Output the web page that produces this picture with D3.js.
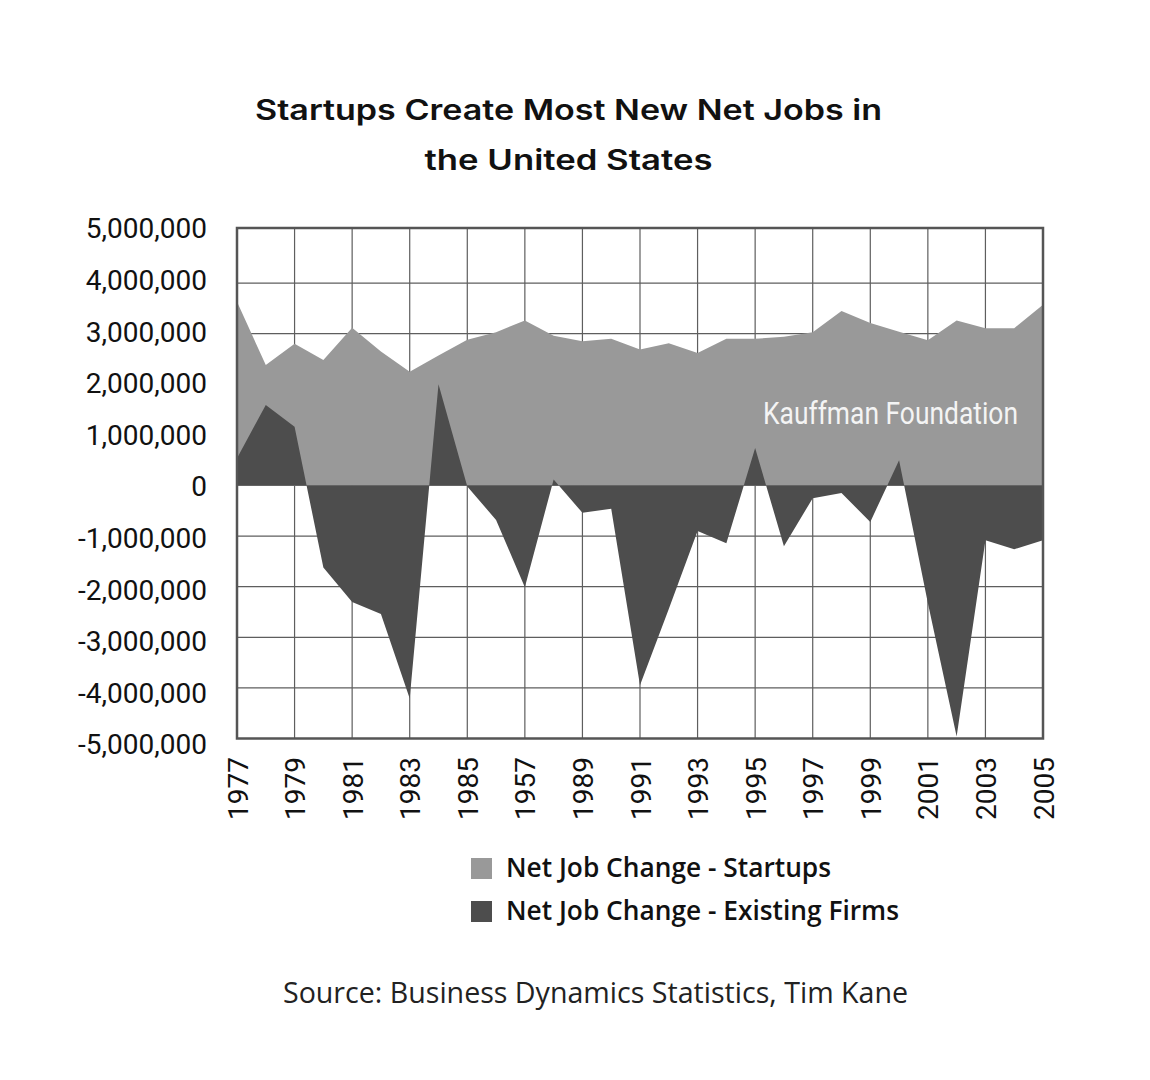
<!DOCTYPE html>
<html><head><meta charset="utf-8">
<script src="https://cdn.jsdelivr.net/npm/d3@7"></script>
<style>body{margin:0;background:#fff}</style>
</head><body>
<svg id="c" width="1150" height="1080"></svg>
<script>
const years = [1977,1978,1979,1980,1981,1982,1983,1984,1985,1986,1987,1988,1989,1990,1991,1992,1993,1994,1995,1996,1997,1998,1999,2000,2001,2002,2003,2004,2005];
const startups = [3630000,2380000,2800000,2480000,3120000,2650000,2250000,2570000,2880000,3030000,3260000,2960000,2850000,2900000,2690000,2810000,2620000,2900000,2900000,2940000,3030000,3450000,3210000,3040000,2870000,3260000,3110000,3110000,3570000];
const existing = [540000,1590000,1160000,-1620000,-2300000,-2540000,-4210000,2000000,-20000,-680000,-2010000,120000,-540000,-460000,-3950000,-2440000,-900000,-1140000,740000,-1200000,-250000,-150000,-720000,500000,-2320000,-4960000,-1080000,-1260000,-1080000];
const xTickYears = [1977,1979,1981,1983,1985,1987,1989,1991,1993,1995,1997,1999,2001,2003,2005];
const xTickLabels = ["1977","1979","1981","1983","1985","1957","1989","1991","1993","1995","1997","1999","2001","2003","2005"];
const yTicks = [5000000,4000000,3000000,2000000,1000000,0,-1000000,-2000000,-3000000,-4000000,-5000000];
const seriesNames = ["Net Job Change - Startups","Net Job Change - Existing Firms"];
const seriesColors = ["#999999","#4d4d4d"];
const titleLines = ["Startups Create Most New Net Jobs in","the United States"];
const watermark = "Kauffman Foundation";
const source = "Source: Business Dynamics Statistics, Tim Kane";

const svg = d3.select("#c");
const L = 237, R = 1043, T = 228, B = 738.5;
const x = d3.scaleLinear().domain([1977,2005]).range([L,R]);
const y = d3.scaleLinear().domain([-5000000,5000000]).range([B,232.5]);
const yLab = d3.scaleLinear().domain([-5000000,5000000]).range([745,229]);
const fmt = d3.formatLocale({decimal:".",thousands:",",grouping:[3],currency:["$",""],minus:"-"}).format(",");

// title
svg.append("g").selectAll("text").data(titleLines).join("text")
  .attr("x",568.5).attr("y",(d,i)=>120+i*50)
  .attr("text-anchor","middle")
  .attr("font-family","Inter, 'Open Sans', sans-serif").attr("font-weight",600)
  .attr("font-size",28).attr("fill","#111")
  .attr("textLength",(d,i)=>i===0?627:288).attr("lengthAdjust","spacingAndGlyphs")
  .text(d=>d);

// grid
const grid = svg.append("g");
grid.selectAll("line.h").data(yTicks.filter(v=>v<5000000)).join("line")
  .attr("x1",L).attr("x2",R).attr("y1",d=>y(d)).attr("y2",d=>y(d))
  .attr("stroke","#5e5e5e").attr("stroke-width",1.2);
grid.selectAll("line.v").data(xTickYears).join("line")
  .attr("x1",d=>x(d)).attr("x2",d=>x(d)).attr("y1",T).attr("y2",B)
  .attr("stroke","#5e5e5e").attr("stroke-width",1.2);

// areas
const area = d3.area().x(d=>x(d.year)).y0(y(0)).y1(d=>y(d.v));
[startups, existing].forEach((s,k)=>{
  svg.append("path").datum(years.map((yr,i)=>({year:yr,v:s[i]})))
    .attr("d",area).attr("fill",seriesColors[k]);
});

// watermark
svg.append("text").attr("x",763).attr("y",424)
  .attr("font-family","Roboto, sans-serif").attr("font-size",31)
  .attr("fill","#f4f4f4").attr("textLength",255).attr("lengthAdjust","spacingAndGlyphs")
  .text(watermark);

// frame
svg.append("rect").attr("x",L).attr("y",T).attr("width",R-L).attr("height",B-T)
  .attr("fill","none").attr("stroke","#555").attr("stroke-width",2.5);

// y axis
const ya = svg.append("g").attr("transform",`translate(${L},0)`)
  .call(d3.axisLeft(yLab).tickValues(yTicks).tickFormat(fmt).tickSize(0).tickPadding(30));
ya.select(".domain").remove();
ya.selectAll("text").attr("font-family","Roboto, sans-serif").attr("font-size",28).attr("fill","#111");

// x axis
const xa = svg.append("g").attr("transform",`translate(0,${B})`)
  .call(d3.axisBottom(x).tickValues(xTickYears).tickFormat((d,i)=>xTickLabels[i]).tickSize(0));
xa.select(".domain").remove();
xa.selectAll("text").attr("transform","rotate(-90)").attr("text-anchor","end")
  .attr("x",-18.5).attr("y",0).attr("dy","0.36em")
  .attr("font-family","Roboto, sans-serif").attr("font-size",28).attr("fill","#111");

// legend
const lg = svg.append("g").selectAll("g").data(seriesNames).join("g")
  .attr("transform",(d,i)=>`translate(471,${858+i*43})`);
lg.append("rect").attr("width",21).attr("height",21).attr("fill",(d,i)=>seriesColors[i]);
lg.append("text").attr("x",35).attr("y",19)
  .attr("font-family","'Open Sans', sans-serif").attr("font-weight",600).attr("font-size",26.3)
  .attr("fill","#111").text(d=>d);

// source
svg.append("text").attr("x",595.5).attr("y",1003).attr("text-anchor","middle")
  .attr("font-family","'Open Sans', sans-serif").attr("font-size",28.6).attr("fill","#222")
  .text(source);
</script>
</body></html>
